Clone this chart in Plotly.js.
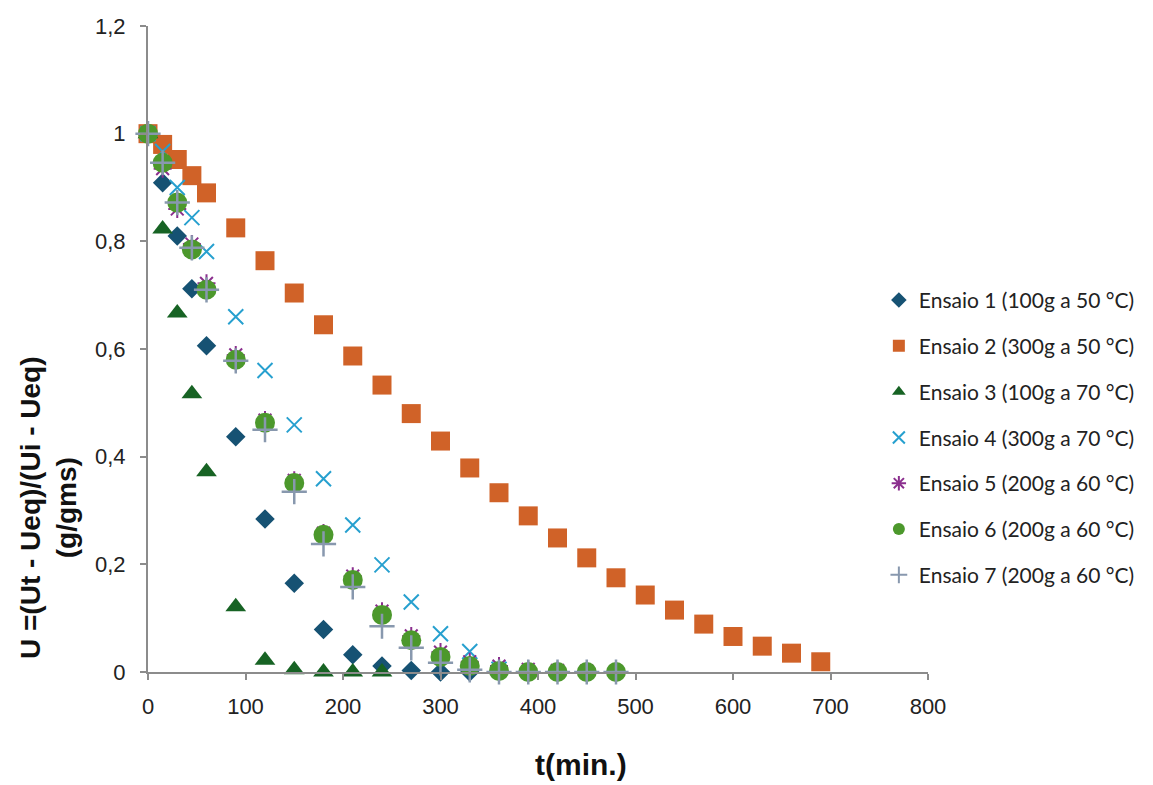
<!DOCTYPE html>
<html>
<head>
<meta charset="utf-8">
<script src="https://cdn.plot.ly/plotly-3.0.1.min.js"></script>
<style>html,body{margin:0;padding:0;background:#fff;}#chart{width:1153px;height:785px;}</style>
</head>
<body>
<div id="chart"></div>
<script>
// Data
const names = [
  "Ensaio 1 (100g a 50 °C)",
  "Ensaio 2 (300g a 50 °C)",
  "Ensaio 3 (100g a 70 °C)",
  "Ensaio 4 (300g a 70 °C)",
  "Ensaio 5 (200g a 60 °C)",
  "Ensaio 6 (200g a 60 °C)",
  "Ensaio 7 (200g a 60 °C)"
];
const t1 = [0, 15, 30, 45, 60, 90, 120, 150, 180, 210, 240, 270, 300, 330];
const u1 = [1, 0.909, 0.81, 0.712, 0.606, 0.437, 0.284, 0.165, 0.079, 0.032, 0.011, 0.003, 0.0, 0.0];

const t2 = [0, 15, 30, 45, 60, 90, 120, 150, 180, 210, 240, 270, 300, 330, 360, 390, 420, 450, 480, 510, 540, 570, 600, 630, 660, 690];
const u2 = [1, 0.98, 0.952, 0.922, 0.89, 0.825, 0.764, 0.704, 0.645, 0.587, 0.533, 0.48, 0.429, 0.379, 0.333, 0.29, 0.249, 0.212, 0.175, 0.143, 0.115, 0.089, 0.066, 0.048, 0.035, 0.019];

const t3 = [0, 15, 30, 45, 60, 90, 120, 150, 180, 210, 240];
const u3 = [1, 0.823, 0.667, 0.517, 0.372, 0.121, 0.022, 0.004, 0.0, 0.0, 0.0];

const t4 = [0, 15, 30, 45, 60, 90, 120, 150, 180, 210, 240, 270, 300, 330, 360];
const u4 = [1, 0.967, 0.9, 0.844, 0.781, 0.66, 0.56, 0.459, 0.359, 0.273, 0.199, 0.13, 0.071, 0.038, 0.005];

const t5 = [0, 15, 30, 45, 60, 90, 120, 150, 180, 210, 240, 270, 300, 330, 360, 390, 420, 450, 480];
const u5 = [1, 0.935, 0.86, 0.795, 0.722, 0.589, 0.468, 0.356, 0.258, 0.178, 0.113, 0.067, 0.037, 0.019, 0.011, 0.005, 0.003, 0.002, 0.001];

const t6 = [0, 15, 30, 45, 60, 90, 120, 150, 180, 210, 240, 270, 300, 330, 360, 390, 420, 450, 480];
const u6 = [1, 0.946, 0.872, 0.785, 0.71, 0.58, 0.463, 0.351, 0.255, 0.171, 0.106, 0.059, 0.028, 0.011, 0.002, 0.0, 0.0, 0.0, 0.0];

const t7 = [0, 15, 30, 45, 60, 90, 120, 150, 180, 210, 240, 270, 300, 330, 360, 390, 420, 450, 480];
const u7 = [1, 0.946, 0.872, 0.788, 0.71, 0.578, 0.45, 0.335, 0.238, 0.158, 0.085, 0.045, 0.017, 0.004, 0.0, 0.0, 0.0, 0.0, 0.0];

const xTickVals = [0, 100, 200, 300, 400, 500, 600, 700, 800];
const yTickVals = [0, 0.2, 0.4, 0.6, 0.8, 1.0, 1.2];
const xTitle = 't(min.)';
const yTitle = 'U =(Ut - Ueq)/(Ui - Ueq)<br>(g/gms)';

const traces = [
  {x: t1, y: u1, name: names[0], marker: {symbol: 'diamond', size: 15, color: '#165273'}},
  {x: t2, y: u2, name: names[1], marker: {symbol: 'square', size: 19, color: '#d06228'}},
  {x: t3, y: u3, name: names[2], marker: {symbol: 'triangle-up', size: 18, color: '#176324'}},
  {x: t4, y: u4, name: names[3], marker: {symbol: 'x-thin-open', size: 15, color: '#27a0cf', line: {width: 2, color: '#27a0cf'}}},
  {x: t5, y: u5, name: names[4], marker: {symbol: 'asterisk-open', size: 15, color: '#8b2f8e', line: {width: 2, color: '#8b2f8e'}}},
  {x: t6, y: u6, name: names[5], marker: {symbol: 'circle', size: 20, color: '#4c982c'}},
  {x: t7, y: u7, name: names[6], marker: {symbol: 'cross-thin-open', size: 18, color: '#8898ae', line: {width: 2.5, color: '#8898ae'}}}
].map((tr, i) => Object.assign({type: 'scatter', mode: 'markers', legendgroup: 'g' + i, cliponaxis: false}, tr));

const sansFont = 'Liberation Sans, Arial, sans-serif';
const tickFont = {family: sansFont, size: 22, color: '#222'};

const layout = {
  width: 1153, height: 785,
  margin: {l: 148, r: 225, t: 26, b: 113},
  paper_bgcolor: '#fff', plot_bgcolor: '#fff',
  separators: ', ',
  showlegend: true,
  legend: {
    x: 0.937, xanchor: 'left', y: 0.607, yanchor: 'top',
    font: {family: 'Lato, Noto Sans, sans-serif', size: 21, color: '#222'},
    traceorder: 'grouped', tracegroupgap: 15.5,
    itemsizing: 'constant',
    bgcolor: 'rgba(0,0,0,0)'
  },
  xaxis: {
    range: [0, 800], tickvals: xTickVals, ticks: 'outside', ticklen: 6, tickcolor: '#8c8c8c', tickwidth: 2,
    showline: true, linecolor: '#8c8c8c', linewidth: 2, showgrid: false, zeroline: false,
    tickfont: tickFont, ticklabelstandoff: 8, title: {text: ''}
  },
  yaxis: {
    range: [0, 1.2], tickvals: yTickVals, tickformat: '~g', ticks: 'outside', ticklen: 6, tickcolor: '#8c8c8c', tickwidth: 2,
    showline: true, linecolor: '#8c8c8c', linewidth: 2, showgrid: false, zeroline: false,
    tickfont: tickFont, ticklabelstandoff: 10, title: {text: ''}
  },
  annotations: [
    {
      text: '<b>' + xTitle + '</b>', xref: 'paper', yref: 'paper', x: (581 - 148) / 780, y: (672 - 764) / 646, xanchor: 'center', yanchor: 'middle',
      showarrow: false, font: {family: sansFont, size: 30, color: '#111'}
    },
    {
      text: '<b>' + yTitle + '</b>', xref: 'paper', yref: 'paper', x: (49 - 148) / 780, y: (672 - 508) / 646, xanchor: 'center', yanchor: 'middle',
      textangle: -90, showarrow: false, font: {family: sansFont, size: 28, color: '#111'}
    }
  ]
};

Plotly.newPlot('chart', traces, layout, {displayModeBar: false, staticPlot: true});
</script>
</body>
</html>
